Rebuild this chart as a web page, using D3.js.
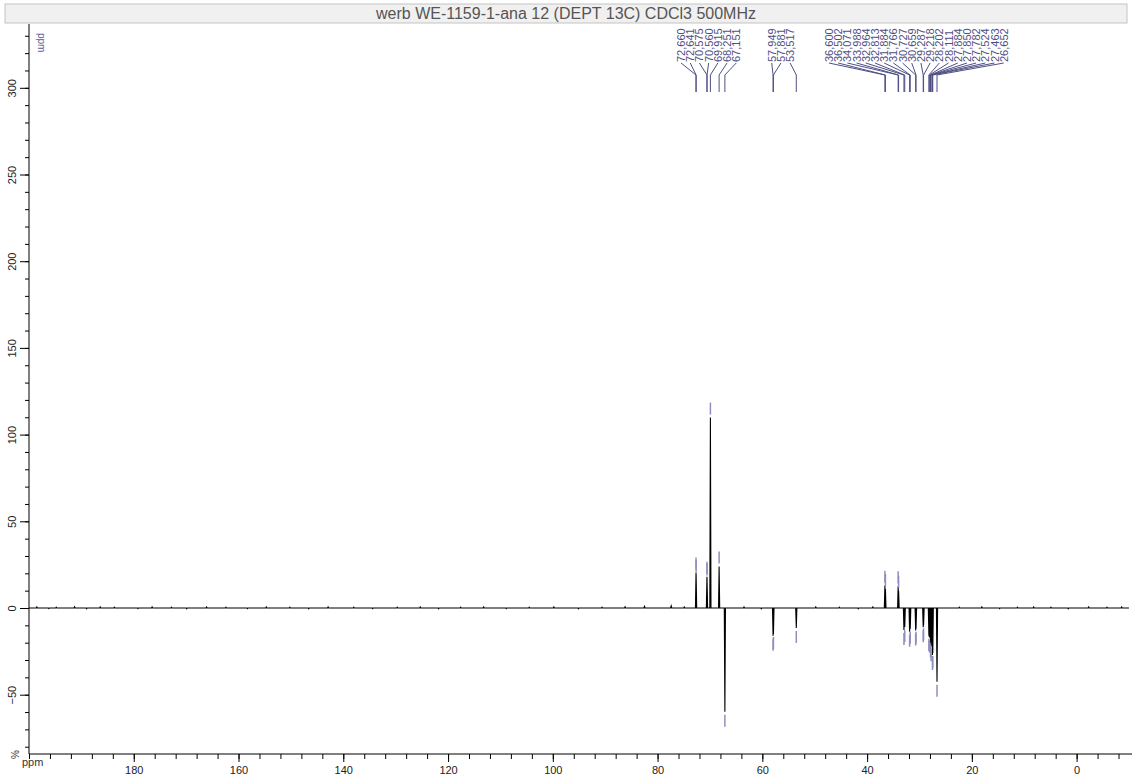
<!DOCTYPE html>
<html>
<head>
<meta charset="utf-8">
<script src="https://cdn.jsdelivr.net/npm/d3@7/dist/d3.min.js"></script>
<style>
  html, body { margin: 0; padding: 0; background: #fff; }
  svg { display: block; font-family: "Liberation Sans", Arial, sans-serif; }
</style>
</head>
<body>
<svg id="chart" width="1132" height="778"></svg>
<script>
// DEPT-135 13C spectrum, CDCl3
const titleText = "werb WE-1159-1-ana 12 (DEPT 13C) CDCl3 500MHz";

// picked peaks: shift (ppm) and intensity (%)
const peakShifts = [72.660, 72.641, 70.575, 70.560, 69.915, 68.251, 67.151,
                    57.949, 57.881, 53.517,
                    36.600, 36.502, 34.071, 33.988, 32.964, 32.813, 31.884, 31.766,
                    30.727, 30.659, 29.287, 29.218, 28.202, 28.111, 27.884, 27.850,
                    27.782, 27.524, 27.463, 26.652];
const peakIntensities = [20.5, 19.0, 18.0, 17.0, 109.8, 24.0, -59.8,
                         -16.0, -15.0, -11.5,
                         12.9, 11.0, 12.5, 10.0, -12.7, -11.0, -13.7, -12.0,
                         -13.0, -12.0, -11.1, -10.0, -16.0, -17.0, -20.0, -20.0,
                         -22.0, -27.1, -26.0, -42.5];
// multiplet group of each picked peak (labels of a group are laid out together)
const peakGroups = [0, 0, 0, 0, 0, 0, 0, 1, 1, 1,
                    2, 2, 2, 2, 2, 2, 2, 2, 2, 2, 2, 2, 2, 2, 2, 2, 2, 2, 2, 2];

// small baseline features
const noiseShifts = [198.5, 196.2, 194.8, 191.3, 189.0, 186.4, 183.7, 179.2, 176.5, 172.8,
                     169.9, 166.1, 162.4, 158.3, 154.7, 150.2, 146.6, 142.9, 138.0, 134.4,
                     129.7, 125.3, 121.8, 117.6, 113.2, 108.9, 104.5, 99.8, 95.1, 90.6,
                     86.2, 82.5, 77.4, 74.9, 63.5, 60.2, 49.8, 45.3, 41.7, 38.9,
                     22.4, 18.1, 14.7, 11.3, 8.2, 4.9, 1.6, -2.3, -5.8, -8.6];
const noiseIntensities = [0.6, -0.4, 0.5, 0.7, -0.5, 0.6, 0.5, -0.4, 0.6, 0.5,
                          -0.5, 0.6, 0.5, -0.4, 0.6, 0.5, -0.5, 0.6, 0.5, -0.4,
                          0.5, 0.6, -0.5, 0.5, 0.6, -0.4, 0.5, 0.6, -0.5, 0.5,
                          0.7, 0.9, 1.2, 0.6, 0.6, -0.5, 0.6, 0.5, -0.5, 0.6,
                          0.5, 0.6, -0.4, 0.5, 0.6, 0.5, -0.5, 0.6, 0.5, 0.6];

// axis ticks
const xMajorTicks = [180, 160, 140, 120, 100, 80, 60, 40, 20, 0];
const xMinorTicks = d3.range(200, -10, -4);
const yMajorTicks = [-50, 0, 50, 100, 150, 200, 250, 300];
const yMinorTicks = d3.range(-80, 340, 10);

const svg = d3.select("#chart");

const plotLeft = 29, plotRight = 1129, plotTop = 24, plotBottom = 754;
const x = d3.scaleLinear().domain([200, -10]).range([plotLeft, plotRight]);
const y = d3.scaleLinear().domain([0, 100]).range([608, 608 - 173.4]);

// title bar
svg.append("rect")
  .attr("x", 5).attr("y", 4).attr("width", 1122).attr("height", 19)
  .attr("fill", "#f0f0f0").attr("stroke", "#c4c4c4");
svg.append("text")
  .attr("x", 566).attr("y", 19)
  .attr("text-anchor", "middle")
  .attr("font-size", 16).attr("fill", "#555")
  .text(titleText);

// x axis
const xAxisG = svg.append("g").attr("transform", `translate(0,${plotBottom})`);
xAxisG.append("g")
  .call(d3.axisBottom(x).tickValues(xMinorTicks).tickSize(5).tickFormat(""))
  .call(g => g.select(".domain").remove());
xAxisG.append("g")
  .call(d3.axisBottom(x).tickValues(xMajorTicks).tickSize(8).tickPadding(4).tickFormat(d3.format("d")))
  .call(g => g.select(".domain").attr("d", `M${plotLeft},0H1132`))
  .call(g => g.selectAll("text").attr("font-size", 11).attr("fill", "#222")
      .attr("font-family", "Liberation Sans, Arial, sans-serif"));

// y axis
const yAxisG = svg.append("g").attr("transform", `translate(${plotLeft},0)`);
yAxisG.append("g")
  .call(d3.axisLeft(y).tickValues(yMinorTicks).tickSize(4).tickFormat(""))
  .call(g => g.select(".domain").remove());
yAxisG.append("g")
  .call(d3.axisLeft(y).tickValues(yMajorTicks).tickSize(9).tickFormat(d3.format("d")))
  .call(g => g.select(".domain").attr("d", `M0,${plotTop}V${plotBottom}`))
  .call(g => g.selectAll("text")
      .attr("font-size", 11).attr("fill", "#222")
      .attr("font-family", "Liberation Sans, Arial, sans-serif")
      .attr("text-anchor", "middle").attr("dy", null)
      .attr("transform", "translate(-13,0) rotate(-90)")
      .attr("x", 0).attr("y", 0));

// unit labels
svg.append("text").attr("x", 22).attr("y", 766)
  .attr("font-size", 11).attr("fill", "#333").text("ppm");
svg.append("text").attr("transform", "translate(19,759) rotate(-90)")
  .attr("font-size", 10).attr("fill", "#333").text("%");
svg.append("text").attr("transform", "translate(38,33) rotate(90)")
  .attr("font-size", 10).attr("fill", "#5b5b9b").text("ppm");

// spectrum trace: baseline with stick-like line shapes
const features = peakShifts.map((s, i) => ({ s, v: peakIntensities[i] }))
  .concat(noiseShifts.map((s, i) => ({ s, v: noiseIntensities[i] })))
  .sort((a, b) => b.s - a.s);
const halfBase = 0.11; // ppm
const trace = [[200, 0]];
features.forEach(f => {
  trace.push([f.s + halfBase, 0], [f.s, f.v], [f.s - halfBase, 0]);
});
trace.push([-10, 0]);
svg.append("path")
  .attr("d", d3.line().x(d => x(d[0])).y(d => y(d[1]))(trace))
  .attr("fill", "none").attr("stroke", "#000").attr("stroke-width", 1.1);

// peak tip markers
const markColor = "#8f8fbf";
peakShifts.forEach((s, i) => {
  const v = peakIntensities[i];
  const dir = v >= 0 ? -1 : 1;
  const y0 = y(v) + dir * 3;
  svg.append("line")
    .attr("x1", x(s)).attr("x2", x(s))
    .attr("y1", y0).attr("y2", y0 + dir * 12)
    .attr("stroke", markColor).attr("stroke-width", 1.5);
});

// peak labels: laid out per group with minimum spacing, centred on their peaks
const labelGap = 9.2;
const labelColor = "#4f4f86";
const labelX = new Array(peakShifts.length);
d3.groups(d3.range(peakShifts.length), i => peakGroups[i]).forEach(([, idx]) => {
  const centre = d3.mean(idx, i => x(peakShifts[i]));
  const n = idx.length;
  idx.forEach((i, k) => { labelX[i] = centre + (k - (n - 1) / 2) * labelGap; });
});
const labelBottom = 62, elbowY = 75, stemBottom = 92;
const lbl = svg.append("g");
peakShifts.forEach((s, i) => {
  const px = x(s);
  lbl.append("path")
    .attr("d", `M${labelX[i]},${labelBottom + 1}L${px},${elbowY}L${px},${stemBottom}`)
    .attr("fill", "none").attr("stroke", labelColor).attr("stroke-width", 1);
  lbl.append("text")
    .attr("transform", `translate(${labelX[i] + 4},${labelBottom}) rotate(-90)`)
    .attr("font-size", 11).attr("fill", labelColor)
    .text(d3.format(".3f")(s).replace(".", ","));
});
</script>
</body>
</html>
